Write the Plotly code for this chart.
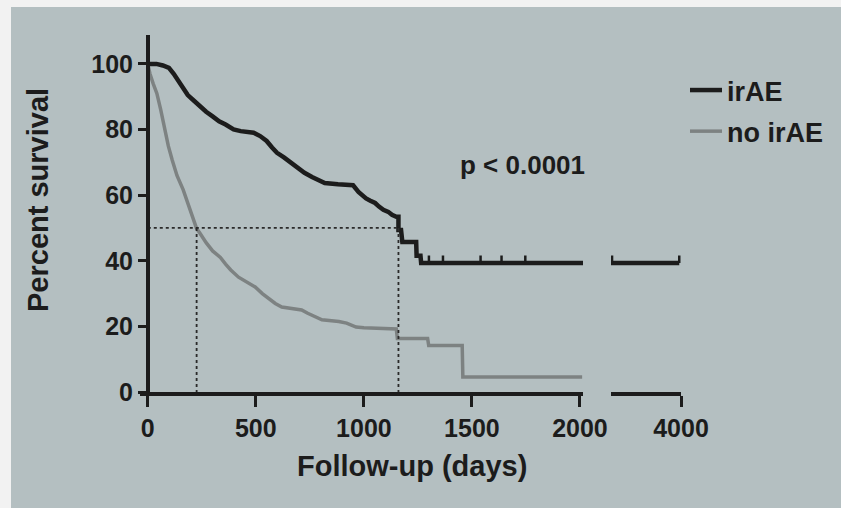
import numpy as np
import plotly.graph_objects as go

W, H = 841, 508

# ---------------- data (curve vertices) ----------------
irae_days = [0, 40, 70, 98, 120, 140, 161, 185, 210, 240, 270, 300, 330, 360, 397,
             430, 490, 520, 550, 575, 598, 630, 660, 690, 725, 760, 790, 819, 880,
             950, 975, 991, 1010, 1030, 1052, 1070, 1090, 1113, 1130, 1150, 1160,
             1160, 1172, 1178, 1242, 1244, 1262, 1265, 3950]
irae_surv = [100, 100, 99.5, 98.8, 97, 95, 92.7, 90.5, 89, 87, 85.4, 84, 82.5, 81.5, 80,
             79.5, 79, 78, 76.5, 74.5, 72.9, 71.5, 70, 68.5, 66.8, 65.5, 64.5, 63.7, 63.3,
             63, 61, 60, 59, 58.3, 57.6, 56.5, 55.5, 54.9, 54, 53.4, 53.4,
             49.4, 49.4, 45.7, 45.7, 41.5, 41.5, 39.3, 39.3]

noirae_days = [0, 10, 25, 42, 60, 80, 95, 113, 135, 164, 190, 215, 226, 240, 270, 300,
               336, 360, 384, 420, 460, 497, 530, 560, 590, 620, 660, 712, 740, 770,
               806, 884, 920, 964, 1000, 1150, 1155, 1295, 1300, 1455, 1458, 2010]
noirae_surv = [100, 97, 94, 91, 86, 79, 75, 70.7, 66, 61.6, 56.5, 51.5, 49.8, 48.5, 45.5, 43,
               41, 39, 37.2, 35, 33.5, 32, 30, 28.5, 27, 25.9, 25.6, 25, 24, 23,
               22, 21.5, 21, 19.8, 19.6, 19.2, 16.3, 16.3, 14.2, 14.2, 4.6, 4.6]

irae_censor_days = [1301, 1366, 1540, 1637, 1747, 2030, 3950]

x_ticks_main = [0, 500, 1000, 1500, 2000]
x_ticks_break = [4000]
y_ticks = [0, 20, 40, 60, 80, 100]
series_names = ["irAE", "no irAE"]
p_text = "p < 0.0001"
x_title = "Follow-up (days)"
y_title = "Percent survival"

# ---------------- helpers ----------------
def fx(p):
    return p / W

def fy(p):
    return 1 - p / H

def step_value(days, surv, t):
    i = int(np.searchsorted(np.array(days), t, side="right")) - 1
    return surv[max(i, 0)]

def median_time(days, surv):
    for d, s in zip(days, surv):
        if s <= 50:
            return d
    return None

FONT = "Liberation Sans, Arial, sans-serif"
INK = "#1c1c1c"
GREY = "#7d8282"
BG = "#b4bfc1"
CENSOR_H = 2.3

fig = go.Figure()

fig.add_trace(go.Scatter(x=irae_days, y=irae_surv, mode="lines",
                         line=dict(color=INK, width=4.5), name=series_names[0],
                         legendgroup="a", xaxis="x", yaxis="y"))
fig.add_trace(go.Scatter(x=noirae_days, y=noirae_surv, mode="lines",
                         line=dict(color=GREY, width=3.5), name=series_names[1],
                         legendgroup="b", xaxis="x", yaxis="y"))
fig.add_trace(go.Scatter(x=irae_days, y=irae_surv, mode="lines",
                         line=dict(color=INK, width=4.5), showlegend=False,
                         xaxis="x2", yaxis="y"))

# censor ticks
cx, cy = [], []
for t in irae_censor_days:
    s = step_value(irae_days, irae_surv, t)
    cx += [t, t, None]
    cy += [s, s + CENSOR_H, None]
for ax in ["x", "x2"]:
    fig.add_trace(go.Scatter(x=cx, y=cy, mode="lines", line=dict(color=INK, width=2.5),
                             showlegend=False, xaxis=ax, yaxis="y", hoverinfo="skip"))

# median dotted guides
m_irae = median_time(irae_days, irae_surv)
m_no = median_time(noirae_days, noirae_surv)
fig.add_trace(go.Scatter(x=[0, m_irae, None, m_irae, m_irae, None, m_no, m_no],
                         y=[50, 50, None, 50, 0, None, 50, 0], mode="lines",
                         line=dict(color="#2a2a2a", width=1.8, dash="dot"),
                         showlegend=False, xaxis="x", yaxis="y", hoverinfo="skip"))

axis_common = dict(showline=True, linecolor=INK, linewidth=4, ticks="outside",
                   tickcolor=INK, tickwidth=3, showgrid=False, zeroline=False,
                   tickfont=dict(family=FONT, size=25, color=INK, weight="bold"))

fig.update_layout(
    width=W, height=H,
    margin=dict(l=0, r=0, t=0, b=0, autoexpand=False),
    paper_bgcolor=BG,
    plot_bgcolor="rgba(0,0,0,0)",
    font=dict(family=FONT, color=INK),
    xaxis=dict(domain=[fx(140), fx(583)], range=[-36, 2014], tickvals=x_ticks_main,
               ticklen=11, anchor="y", ticklabelstandoff=0, **axis_common),
    xaxis2=dict(domain=[fx(611), fx(681)], range=[2000, 4000], tickvals=x_ticks_break,
                ticklen=11, anchor="y", ticklabelstandoff=0, **axis_common),
    yaxis=dict(domain=[fy(392), fy(35)], range=[0, 108.8], tickvals=y_ticks,
               ticklen=8, anchor="free", position=fx(148), **axis_common),
    legend=dict(x=fx(685), y=fy(66), xanchor="left", yanchor="top", itemwidth=32,
                bgcolor="rgba(0,0,0,0)", traceorder="grouped", tracegroupgap=3,
                font=dict(family=FONT, size=27, color=INK, weight="bold")),
    shapes=[
        dict(type="rect", xref="paper", yref="paper", x0=0, x1=1, y0=fy(7), y1=1,
             fillcolor="#f2f2f2", line=dict(width=0), layer="below"),
        dict(type="rect", xref="paper", yref="paper", x0=0, x1=fx(11), y0=0, y1=1,
             fillcolor="#f2f2f2", line=dict(width=0), layer="below"),
    ],
    annotations=[
        dict(text=p_text, x=fx(522), y=fy(165), xref="paper", yref="paper",
             xanchor="center", yanchor="middle", showarrow=False,
             font=dict(family=FONT, size=26, color=INK, weight="bold")),
        dict(text=x_title, x=fx(412), y=fy(466), xref="paper", yref="paper",
             xanchor="center", yanchor="middle", showarrow=False,
             font=dict(family=FONT, size=29, color=INK, weight="bold")),
        dict(text=y_title, x=fx(38), y=fy(200), xref="paper", yref="paper", textangle=-90,
             xanchor="center", yanchor="middle", showarrow=False,
             font=dict(family=FONT, size=29, color=INK, weight="bold")),
    ],
)

fig.write_html("out.html")
